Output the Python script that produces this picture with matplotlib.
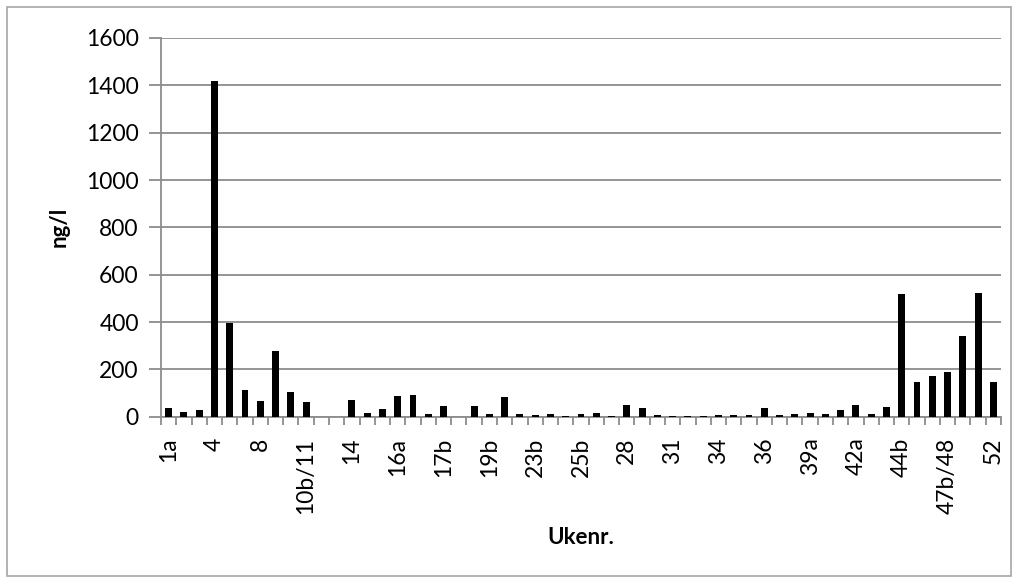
import numpy as np
import matplotlib
matplotlib.use('Agg')
import matplotlib.pyplot as plt
from matplotlib.patches import Rectangle

# Ukenummer (alle kategorier, bare hver tredje vises paa aksen)
UKER = ['1a', '1b', '2', '4', '5', '6', '8', '9', '10a', '10b/11',
        '12', '13', '14', '15a', '15b', '16a', '16b', '17a', '17b', '18',
        '19a', '19b', '20', '23a', '23b', '24', '25a', '25b', '26', '27',
        '28', '29', '30', '31', '32', '33', '34', '35a', '35b', '36',
        '37', '38', '39a', '39b', '40', '42a', '42b', '44a', '44b', '45',
        '47a', '47b/48', '49', '50', '52']

# Konsentrasjon ng/l
VERDIER = [37, 21, 30, 1420, 395, 111, 65, 278, 106, 64,
           0, 0, 70, 16, 31, 88, 92, 11, 45, 0,
           45, 10, 82, 11, 7, 11, 3, 10, 14, 3,
           51, 35, 7, 3, 1, 5, 7, 7, 8, 35,
           7, 12, 14, 13, 30, 48, 13, 41, 520, 146,
           170, 187, 341, 524, 145]

GRA = '#8c8c8c'

plt.rcParams['font.family'] = ['Lato', 'DejaVu Sans']

fig = plt.figure(figsize=(10.18, 5.83), dpi=100)
ax = fig.add_axes([161/1018, 1 - 416.7/583, 840/1018, (416.7 - 38)/583])

# Ramme rundt hele diagrammet
fig.patches.append(Rectangle((7/1018, 7/583), 1004/1018, 569/583,
                             transform=fig.transFigure, fill=False,
                             edgecolor='#a6a6a6', linewidth=1.2))

x = np.arange(len(VERDIER))
ax.bar(x, VERDIER, width=0.45, color='black', zorder=3)

ax.set_xlim(-0.5, len(VERDIER) - 0.5)
ax.set_ylim(0, 1600)
ax.set_yticks(np.arange(0, 1601, 200))
ax.yaxis.grid(True, color=GRA, linewidth=1.3, zorder=0)

# Etiketter paa hver tredje uke, streker mellom alle kategorier
ax.set_xticks(x[::3])
ax.set_xticklabels(UKER[::3], rotation=90)
ax.set_xticks(np.arange(-0.5, len(VERDIER)), minor=True)
ax.tick_params(axis='x', which='major', length=0, pad=15, labelsize=16.5)
ax.tick_params(axis='x', which='minor', length=6, width=1.3, color=GRA)
ax.tick_params(axis='y', length=9, width=1.3, color=GRA, labelsize=16.5, pad=7)

for s in ['top', 'right']:
    ax.spines[s].set_visible(False)
for s in ['left', 'bottom']:
    ax.spines[s].set_color(GRA)
    ax.spines[s].set_linewidth(1.3)

ax.set_ylabel('ng/l', fontsize=16, fontweight='bold', labelpad=12)
fig.text(581/1018, 1 - 538/583, 'Ukenr.', fontsize=16, fontweight='bold',
         ha='center', va='center')

fig.savefig('out.png', dpi=100)
